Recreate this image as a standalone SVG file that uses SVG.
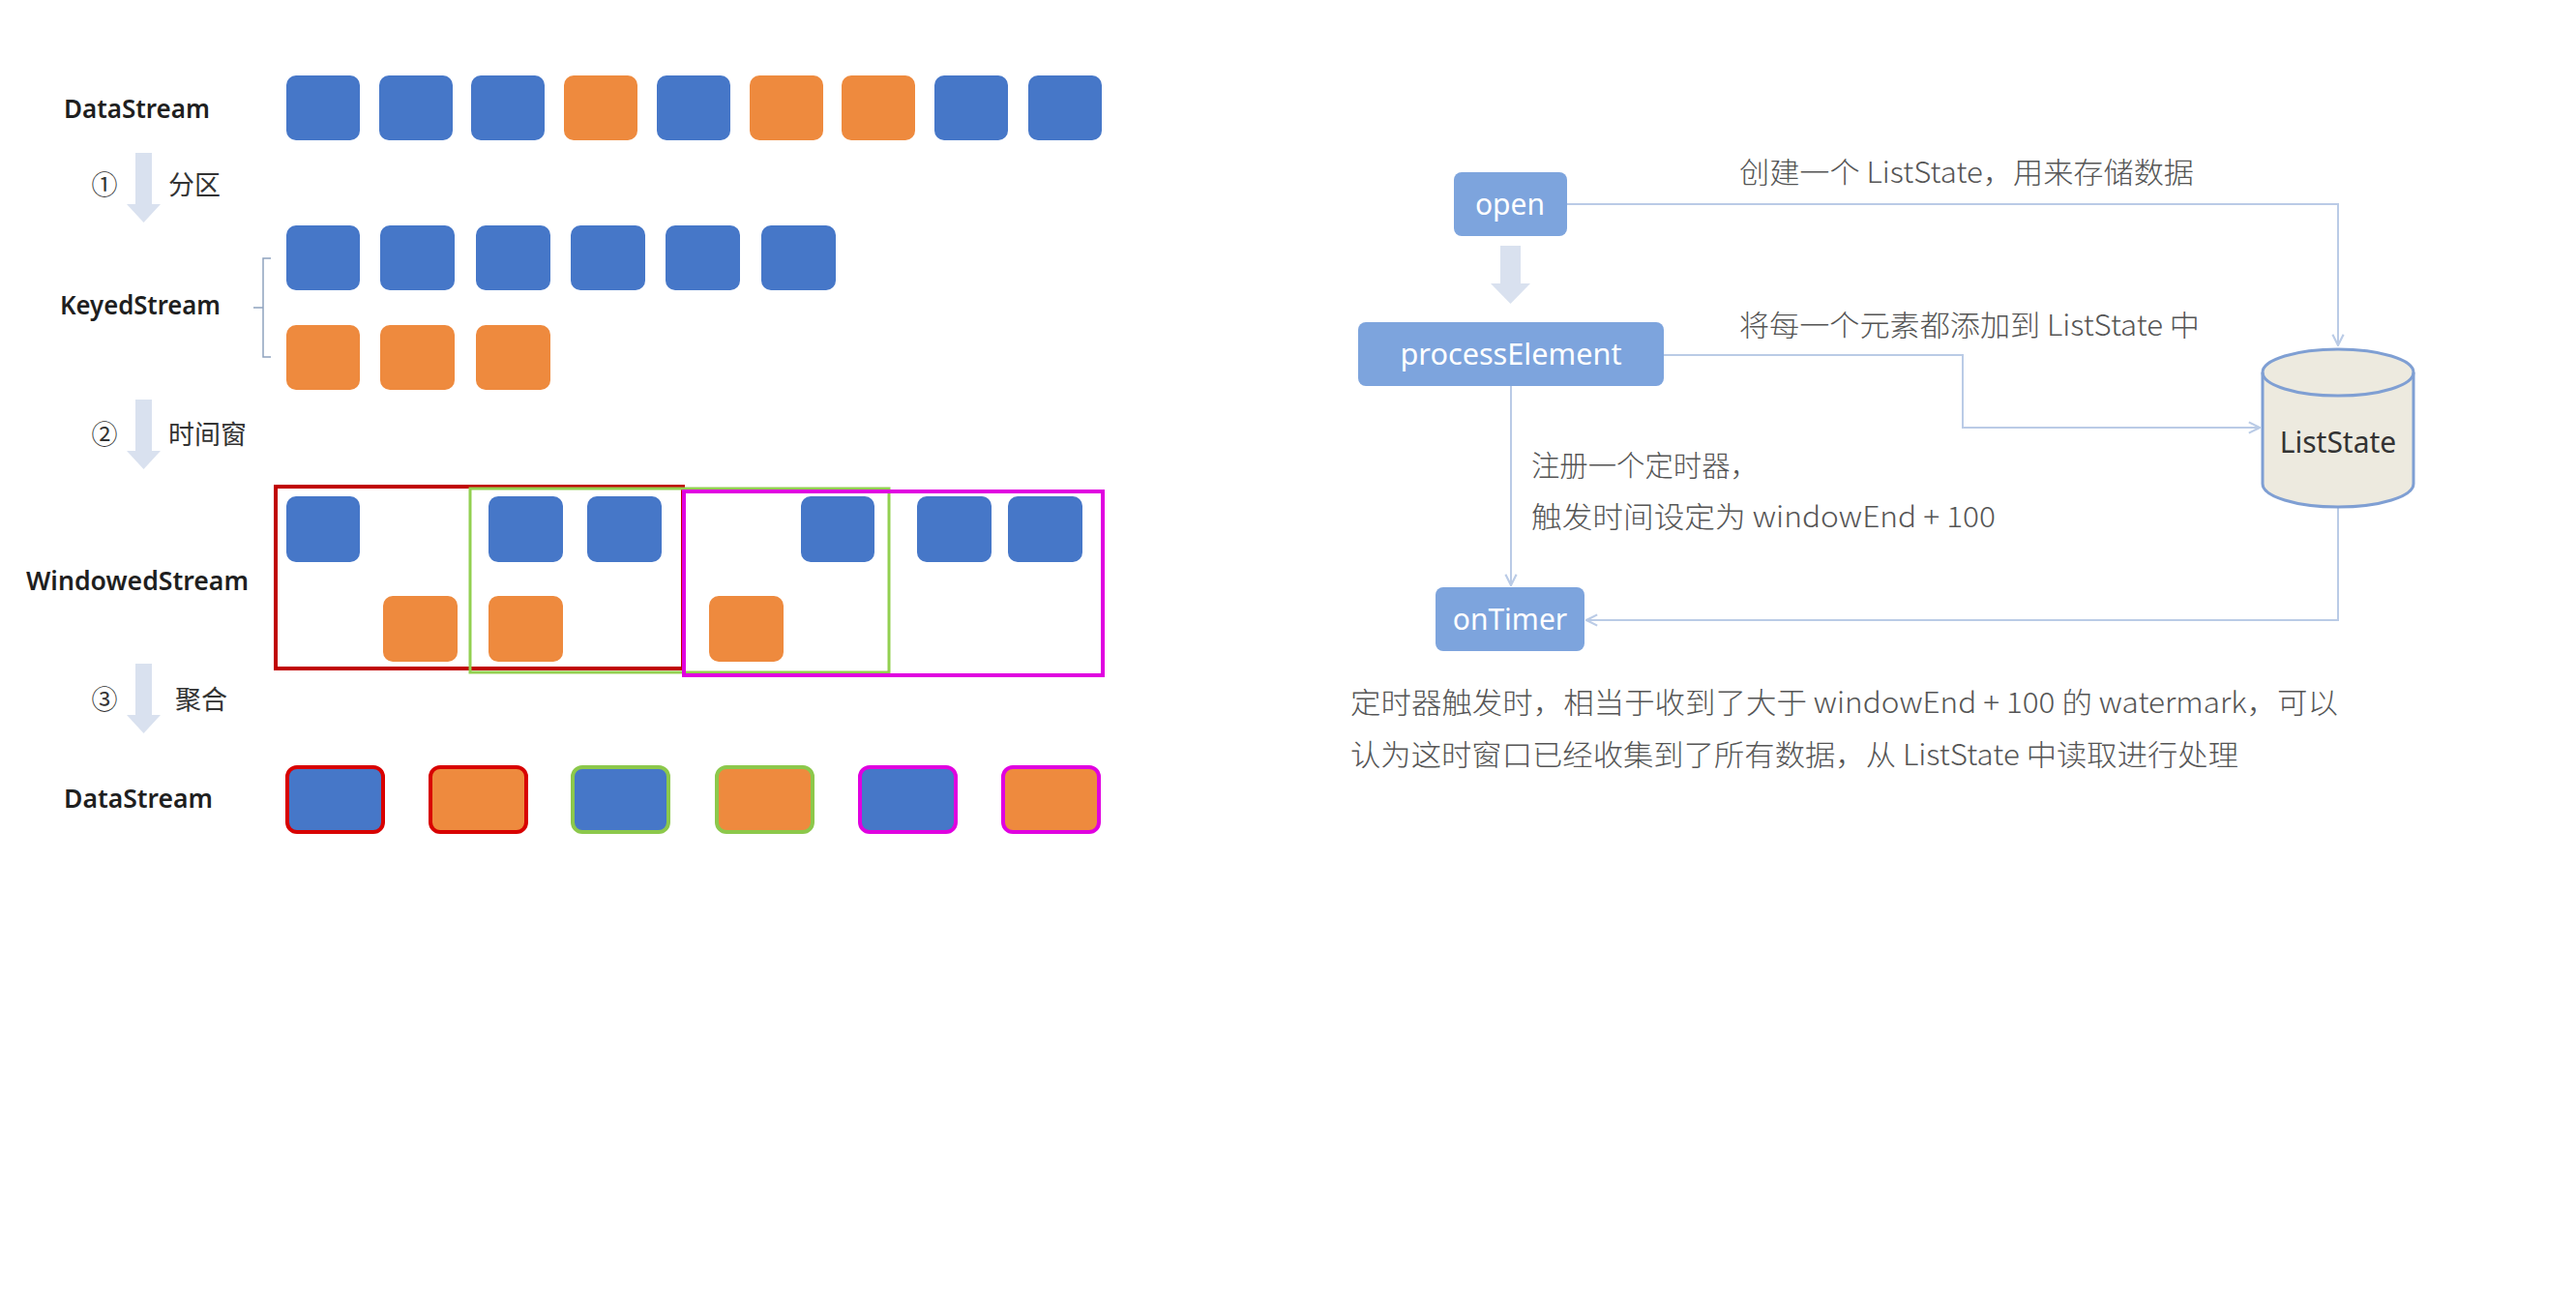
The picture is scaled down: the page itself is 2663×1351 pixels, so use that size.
<svg xmlns="http://www.w3.org/2000/svg" width="2663" height="1351" viewBox="0 0 2663 1351">
<defs>
<style>
.b{fill:#4677C8}
.o{fill:#EE8A3E}
.lbl{font-family:"Noto Sans","Noto Sans CJK SC",sans-serif;font-weight:600;font-size:27px;fill:#1f1f1f}
.cj{font-family:"Noto Sans CJK SC","Noto Sans",sans-serif;font-size:27px;fill:#333}
.bigarrow{fill:#D9E1EF}
.node{fill:#7DA4DD}
.nt{font-family:"Noto Sans","Noto Sans CJK SC",sans-serif;font-size:30px;fill:#ffffff;text-anchor:middle}
.rt{font-family:"Noto Sans CJK SC","Noto Sans",sans-serif;font-weight:300;font-size:30px;fill:#555555}
.conn{fill:none;stroke:#BACBE6;stroke-width:2}
</style>
<marker id="ah" viewBox="0 0 10 10" refX="9" refY="5" markerWidth="14" markerHeight="14" markerUnits="userSpaceOnUse" orient="auto">
<path d="M1,1 L9,5 L1,9" fill="none" stroke="#BACBE6" stroke-width="1.5"/>
</marker>
</defs>
<rect width="2663" height="1351" fill="#ffffff"/>

<g id="left-labels">
<text class="lbl" x="66" y="122" textLength="151" lengthAdjust="spacingAndGlyphs">DataStream</text>
<text class="lbl" x="62" y="325" textLength="166" lengthAdjust="spacingAndGlyphs">KeyedStream</text>
<text class="lbl" x="27" y="610" textLength="230" lengthAdjust="spacingAndGlyphs">WindowedStream</text>
<text class="lbl" x="66" y="835" textLength="154" lengthAdjust="spacingAndGlyphs">DataStream</text>
</g>

<g id="step-arrows">
<g id="step1">
<rect class="bigarrow" x="140" y="158" width="17" height="54"/>
<polygon class="bigarrow" points="131,211 166,211 148.5,230"/>
<text class="cj" x="108" y="201" text-anchor="middle">①</text>
<text class="cj" x="174" y="201">分区</text>
</g>
<g id="step2">
<rect class="bigarrow" x="140" y="413" width="17" height="54"/>
<polygon class="bigarrow" points="131,466 166,466 148.5,485"/>
<text class="cj" x="108" y="459" text-anchor="middle">②</text>
<text class="cj" x="174" y="459">时间窗</text>
</g>
<g id="step3">
<rect class="bigarrow" x="140" y="686" width="17" height="54"/>
<polygon class="bigarrow" points="131,739 166,739 148.5,758"/>
<text class="cj" x="108" y="733" text-anchor="middle">③</text>
<text class="cj" x="181" y="733">聚合</text>
</g>
</g>

<g id="datastream-top">
<rect class="b" x="296" y="78" width="76" height="67" rx="10"/>
<rect class="b" x="392" y="78" width="76" height="67" rx="10"/>
<rect class="b" x="487" y="78" width="76" height="67" rx="10"/>
<rect class="o" x="583" y="78" width="76" height="67" rx="10"/>
<rect class="b" x="679" y="78" width="76" height="67" rx="10"/>
<rect class="o" x="775" y="78" width="76" height="67" rx="10"/>
<rect class="o" x="870" y="78" width="76" height="67" rx="10"/>
<rect class="b" x="966" y="78" width="76" height="67" rx="10"/>
<rect class="b" x="1063" y="78" width="76" height="67" rx="10"/>
</g>

<g id="keyedstream">
<path d="M280,267 H272 V369 H280 M272,318 H262" fill="none" stroke="#8FA3BF" stroke-width="1.5"/>
<rect class="b" x="296" y="233" width="76" height="67" rx="10"/>
<rect class="b" x="393" y="233" width="77" height="67" rx="10"/>
<rect class="b" x="492" y="233" width="77" height="67" rx="10"/>
<rect class="b" x="590" y="233" width="77" height="67" rx="10"/>
<rect class="b" x="688" y="233" width="77" height="67" rx="10"/>
<rect class="b" x="787" y="233" width="77" height="67" rx="10"/>
<rect class="o" x="296" y="336" width="76" height="67" rx="10"/>
<rect class="o" x="393" y="336" width="77" height="67" rx="10"/>
<rect class="o" x="492" y="336" width="77" height="67" rx="10"/>
</g>

<g id="windowedstream">
<rect class="b" x="296" y="513" width="76" height="68" rx="10"/>
<rect class="b" x="505" y="513" width="77" height="68" rx="10"/>
<rect class="b" x="607" y="513" width="77" height="68" rx="10"/>
<rect class="b" x="828" y="513" width="76" height="68" rx="10"/>
<rect class="b" x="948" y="513" width="77" height="68" rx="10"/>
<rect class="b" x="1042" y="513" width="77" height="68" rx="10"/>
<rect class="o" x="396" y="616" width="77" height="68" rx="10"/>
<rect class="o" x="505" y="616" width="77" height="68" rx="10"/>
<rect class="o" x="733" y="616" width="77" height="68" rx="10"/>
<rect x="285" y="503" width="421" height="188" fill="none" stroke="#C00000" stroke-width="4"/>
<rect x="486" y="505" width="433" height="190" fill="none" stroke="#92D050" stroke-width="3"/>
<rect x="707" y="508" width="433" height="190" fill="none" stroke="#E000E0" stroke-width="4"/>
</g>

<g id="datastream-bottom">
<rect class="b" x="297" y="793" width="99" height="67" rx="10" stroke="#D80000" stroke-width="4"/>
<rect class="o" x="445" y="793" width="99" height="67" rx="10" stroke="#D80000" stroke-width="4"/>
<rect class="b" x="592" y="793" width="99" height="67" rx="10" stroke="#8CC84B" stroke-width="4"/>
<rect class="o" x="741" y="793" width="99" height="67" rx="10" stroke="#8CC84B" stroke-width="4"/>
<rect class="b" x="889" y="793" width="99" height="67" rx="10" stroke="#E000E0" stroke-width="4"/>
<rect class="o" x="1037" y="793" width="99" height="67" rx="10" stroke="#E000E0" stroke-width="4"/>
</g>

<g id="connectors">
<path class="conn" d="M1620,211 H2417 V357" marker-end="url(#ah)"/>
<path class="conn" d="M1720,367 H2029 V442 H2336" marker-end="url(#ah)"/>
<path class="conn" d="M1562,399 V605" marker-end="url(#ah)"/>
<path class="conn" d="M2417,524 V641 H1640" marker-end="url(#ah)"/>
<rect class="bigarrow" x="1551" y="254" width="21" height="40"/>
<polygon class="bigarrow" points="1541,293 1582,293 1561.5,314"/>
</g>

<g id="node-open">
<rect class="node" x="1503" y="178" width="117" height="66" rx="8"/>
<text class="nt" x="1561" y="222">open</text>
</g>
<g id="node-processElement">
<rect class="node" x="1404" y="333" width="316" height="66" rx="8"/>
<text class="nt" x="1562" y="377" textLength="229" lengthAdjust="spacingAndGlyphs">processElement</text>
</g>
<g id="node-onTimer">
<rect class="node" x="1484" y="607" width="154" height="66" rx="8"/>
<text class="nt" x="1561" y="651">onTimer</text>
</g>
<g id="node-ListState">
<path d="M2339,385 V500 A78,24 0 0 0 2495,500 V385 A78,24 0 0 0 2339,385 Z" fill="#EDEADF" stroke="#7F9FD3" stroke-width="3"/>
<path d="M2339,385 A78,24 0 0 0 2495,385" fill="none" stroke="#7F9FD3" stroke-width="3"/>
<text x="2417" y="468" text-anchor="middle" font-family="Noto Sans, sans-serif" font-size="30" fill="#333333">ListState</text>
</g>

<g id="labels-right">
<text class="rt" x="1798" y="189" textLength="470" lengthAdjust="spacingAndGlyphs">创建一个 ListState，用来存储数据</text>
<text class="rt" x="1798" y="347" textLength="476" lengthAdjust="spacingAndGlyphs">将每一个元素都添加到 ListState 中</text>
<text class="rt" x="1583" y="492" textLength="235" lengthAdjust="spacingAndGlyphs">注册一个定时器，</text>
<text class="rt" x="1583" y="545" textLength="480" lengthAdjust="spacingAndGlyphs">触发时间设定为 windowEnd + 100</text>
<text class="rt" x="1396" y="737" textLength="1021" lengthAdjust="spacingAndGlyphs">定时器触发时，相当于收到了大于 windowEnd + 100 的 watermark，可以</text>
<text class="rt" x="1396" y="791" textLength="918" lengthAdjust="spacingAndGlyphs">认为这时窗口已经收集到了所有数据，从 ListState 中读取进行处理</text>
</g>
</svg>
